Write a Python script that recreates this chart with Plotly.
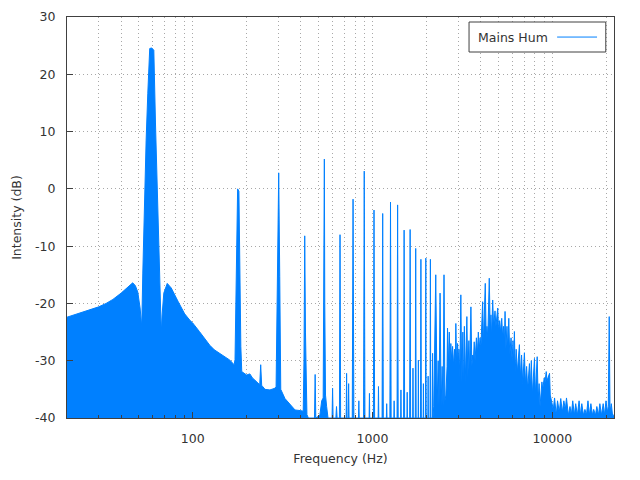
import math
import plotly.graph_objects as go

# ---- data ----
# spectrum: frequency (Hz) and level (dB)
freq_low = [20, 22, 25, 28, 30, 33, 36, 40, 43, 46.4, 48, 49.5, 51, 51.7, 52.1, 52.8, 53.9, 55.1, 56.3, 57.7,
            59.2, 60.8, 62.1, 63.2, 64.6, 65.7, 66.9, 67.6, 69.1, 72.2, 76, 82.8, 90.2, 96.2, 100, 109, 115,
            124.5, 132, 141.5, 150, 161, 170, 172, 174, 176.6, 177.8, 180.8, 182, 185.3, 187.5, 199.6, 208,
            215, 222, 231, 236, 239, 242, 245, 252.6, 269, 287, 291, 293, 297, 301, 305, 309, 326, 348, 371,
            396, 412, 416, 420, 424, 427, 432, 440]
db_low = [-22.4, -22.0, -21.4, -20.9, -20.6, -20.0, -19.3, -18.2, -17.3, -16.4, -16.9, -18.0, -20.8, -22.9,
          -24.1, -14.7, -2.0, 8.5, 16.7, 24.5, 24.6, 24.2, 11.5, 2.8, -6.0, -14.7, -25.2, -22.0, -18.2, -16.5,
          -17.3, -19.6, -21.8, -22.9, -23.4, -24.9, -25.9, -27.3, -28.1, -28.7, -29.3, -29.9, -30.7, -29.8,
          -19.4, -7.8, 0.0, -0.4, -9.5, -27.5, -31.9, -32.5, -32.3, -33.0, -33.4, -33.9, -34.2, -30.7, -34.3,
          -34.5, -35.0, -35.1, -34.8, -34.5, -24.1, -4.6, 2.8, -15.3, -35.0, -36.6, -37.7, -38.6, -38.7,
          -38.8, -30.0, -8.2, -25.0, -35.1, -39.4, -40.0]

freq_harm = [476, 480, 484, 510, 522, 532, 537, 540, 543, 548, 556, 566, 596, 600, 604, 626, 631, 636,
             655, 660, 665, 714, 718, 722, 733, 737, 741, 772, 780, 788, 836, 840, 844, 892, 900, 908,
             958, 962, 966, 1012, 1020, 1028, 1075, 1080, 1085, 1131, 1140, 1149, 1195, 1200, 1205,
             1250, 1260, 1270, 1315, 1320, 1325, 1370, 1380, 1390, 1435, 1440, 1445, 1490, 1500, 1510,
             1555, 1560, 1565, 1610, 1620, 1630, 1674, 1680, 1686, 1730, 1740, 1750, 1794, 1800, 1806,
             1850, 1860, 1870, 1914, 1920, 1926, 1970, 1980, 1990, 2034, 2040, 2046, 2090, 2100, 2110,
             2150, 2160, 2170]
db_harm = [-40, -32.4, -40, -39.5, -37, -36.5, -20, 5.2, -20, -36, -38, -40, -40, -34.8, -40, -40, -38, -40,
           -40, -8.0, -40, -40, -32.2, -40, -40, -34, -40, -40, -1.8, -40, -40, -37, -40, -40, 3.1, -40,
           -40, -35.7, -40, -40, -3.7, -40, -40, -34.5, -40, -40, -4.3, -40, -40, -37.5, -40,
           -40, -2.3, -40, -40, -37.0, -40, -40, -2.8, -40, -40, -35.1, -40, -40, -7.2, -40,
           -40, -35.5, -40, -40, -7.1, -40, -40, -31.3, -40, -40, -10.4, -40, -40, -29.9, -40,
           -40, -12.3, -40, -40, -34, -40, -40, -12.1, -40, -40, -32.7, -40, -40, -12.3, -40,
           -40, -28.7, -40]

freq_high = [2192, 2249, 2290, 2320, 2345, 2377, 2410, 2440, 2470, 2500, 2530, 2560, 2600, 2615, 2640, 2675,
             2700, 2728, 2760, 2790, 2830, 2860, 2890, 2909, 2940, 2975, 3004, 3030, 3062, 3101, 3140, 3183,
             3210, 3245, 3280, 3350, 3390, 3438, 3470, 3528, 3570, 3610, 3642, 3681, 3720, 3786, 3830, 3880,
             3925, 3970, 4012, 4101, 4140, 4241, 4290, 4334, 4380, 4464, 4520, 4560, 4600, 4664, 4720, 4804,
             4860, 4975, 5030, 5100, 5160, 5236, 5300, 5360, 5420, 5464, 5520, 5600, 5650, 5731, 5800, 5900,
             5980, 6050, 6100, 6158, 6220, 6300, 6400, 6567, 6640, 6750, 6850, 7000, 7090, 7200, 7300, 7467,
             7550, 7650, 7750, 7963, 8050, 8150, 8246, 8350, 8450, 8550, 8760, 8850, 9022, 9100, 9258, 9350,
             9500, 9658, 9750, 9936, 10130, 10300, 10527, 10700, 10943, 11150, 11373, 11600, 11821, 12000,
             12287, 12550, 12766, 13000, 13272, 13500, 13793, 14100, 14336, 14600, 14902, 15200, 15486,
             15800, 16094, 16400, 16727, 17000, 17388, 17700, 18072, 18400, 18780, 19200, 19517, 19900,
             20300, 20500, 20740, 20950, 21300, 21636, 22050]
db_high = [-38, -15.0, -38, -30, -38, -18.2, -38, -31, -38, -15.0, -37, -36, -31, -24.3, -31, -25.0,
           -30, -27.0, -30, -27.5, -31, -28, -31, -23.5, -31, -27, -30, -28, -33, -18.5, -34, -25,
           -35, -24.0, -34, -22.3, -33, -26.5, -32, -20.6, -31, -29, -30, -26.7, -30, -26, -29, -25,
           -28, -26, -27.5, -19.7, -27, -16.5, -26, -24, -26, -15.6, -25, -22, -26, -19.4, -24, -21.3,
           -24, -20.8, -25, -23, -25, -22.6, -26, -24, -27, -21.4, -28, -24, -28, -22.6, -29, -26,
           -30, -26.5, -31, -24.9, -32, -28, -32, -27.2, -33, -29, -34, -28.6, -34, -31, -35, -30.5,
           -35, -30, -36, -29.6, -36, -31, -29.3, -37, -34, -38, -33.7, -35, -33, -34, -31.9, -33.5,
           -33, -32.2, -36, -37.5, -38.5, -36.5, -39.5, -37, -39, -36.6, -39, -37, -38.5, -36.5,
           -39.5, -38, -39.5, -37, -39.5, -37.5, -39.5, -37, -39.5, -37.5, -39.5, -38.5, -39.5,
           -37, -39.5, -37.5, -39.5, -38.5, -39.5, -38, -39.5, -37.5, -39.5, -37.5, -39.5, -37,
           -39, -38, -22.3, -39, -37.5, -39.5, -39.5]

floor_db = -40
x_range_hz = [20, 22050]
y_range_db = [-40, 30]
y_ticks = [-40, -30, -20, -10, 0, 10, 20, 30]
x_major_ticks = [100, 1000, 10000]
x_minor_ticks = [20, 30, 40, 50, 60, 70, 80, 90, 200, 300, 400, 500, 600, 700, 800, 900,
                 2000, 3000, 4000, 5000, 6000, 7000, 8000, 9000, 20000]
series_name = "Mains Hum"

freq = freq_low + freq_harm + freq_high
level = db_low + db_harm + db_high

blue = "#0080ff"
txt = "#333333"
axis_col = "#404040"
grid = "#a8a8a8"
gdash = "1px,3px"
font_family = "DejaVu Sans"
fs = 12.5

fig = go.Figure()
fig.add_trace(go.Scatter(x=x_range_hz, y=[floor_db, floor_db], mode="lines",
                         line=dict(width=0, color=blue), showlegend=False, hoverinfo="skip"))
fig.add_trace(go.Scatter(x=freq, y=level, mode="lines", name=series_name,
                         line=dict(color=blue, width=1), fill="tonexty", fillcolor=blue,
                         showlegend=False))

# the page body has an 8px margin, so the figure is sized to fit inside the 640x480 window
fig.update_layout(
    width=624, height=464,
    margin=dict(l=59, r=18, t=9, b=54, autoexpand=False),
    paper_bgcolor="white", plot_bgcolor="white",
    font=dict(family=font_family, size=fs, color=txt),
    showlegend=False,
)
fig.update_xaxes(
    type="log", range=[math.log10(x_range_hz[0]), math.log10(x_range_hz[1])],
    tickmode="array", tickvals=x_major_ticks, ticktext=[str(v) for v in x_major_ticks],
    showgrid=True, gridcolor=grid, griddash=gdash, gridwidth=1,
    ticks="inside", ticklen=6, tickcolor=axis_col,
    minor=dict(tickmode="array", tickvals=x_minor_ticks, showgrid=True, gridcolor=grid,
               griddash=gdash, gridwidth=1, ticks="inside", ticklen=3, tickcolor=axis_col),
    showline=True, mirror=True, linecolor=axis_col, linewidth=1,
    zeroline=False, ticklabelstandoff=9, automargin=False,
    title=dict(text="Frequency (Hz)", standoff=9, font=dict(size=fs, color=txt)),
)
fig.update_yaxes(
    range=y_range_db, tickmode="array", tickvals=y_ticks, ticktext=[str(v) for v in y_ticks],
    showgrid=True, gridcolor=grid, griddash=gdash, gridwidth=1,
    ticks="inside", ticklen=6, tickcolor=axis_col,
    showline=True, mirror=True, linecolor=axis_col, linewidth=1,
    zeroline=False, ticklabelstandoff=8, automargin=False,
    title=dict(text="Intensity (dB)", standoff=10, font=dict(size=fs, color=txt)),
)

# legend box in gnuplot style: text on the left, line sample on the right
fig.add_shape(type="rect", xref="paper", yref="paper", x0=0.735, x1=0.985, y0=0.9127, y1=0.9875,
              line=dict(color=axis_col, width=1), fillcolor="white", layer="above")
fig.add_annotation(xref="paper", yref="paper", x=0.748, y=0.95, xanchor="left", yanchor="middle",
                   text=series_name, showarrow=False, align="left",
                   font=dict(family=font_family, size=fs, color=txt))
fig.add_shape(type="line", xref="paper", yref="paper", x0=0.896, x1=0.969, y0=0.95, y1=0.95,
              line=dict(color=blue, width=1), layer="above")

fig.write_html("out.html")
